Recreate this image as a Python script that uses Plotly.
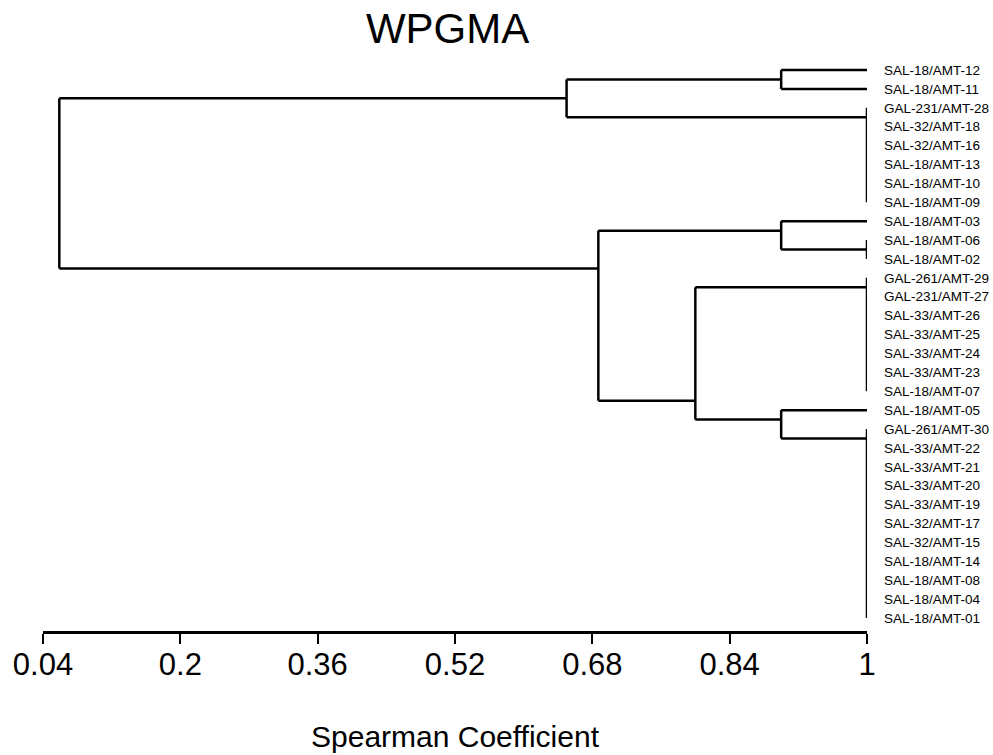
import plotly.graph_objects as go

# ---- data ----
leaves = [
    "SAL-18/AMT-12", "SAL-18/AMT-11", "GAL-231/AMT-28", "SAL-32/AMT-18",
    "SAL-32/AMT-16", "SAL-18/AMT-13", "SAL-18/AMT-10", "SAL-18/AMT-09",
    "SAL-18/AMT-03", "SAL-18/AMT-06", "SAL-18/AMT-02", "GAL-261/AMT-29",
    "GAL-231/AMT-27", "SAL-33/AMT-26", "SAL-33/AMT-25", "SAL-33/AMT-24",
    "SAL-33/AMT-23", "SAL-18/AMT-07", "SAL-18/AMT-05", "GAL-261/AMT-30",
    "SAL-33/AMT-22", "SAL-33/AMT-21", "SAL-33/AMT-20", "SAL-33/AMT-19",
    "SAL-32/AMT-17", "SAL-32/AMT-15", "SAL-18/AMT-14", "SAL-18/AMT-08",
    "SAL-18/AMT-04", "SAL-18/AMT-01",
]

# merges: node name -> (children, similarity at which they join)
node_names = ["A", "B", "AB", "C1", "C", "E", "G", "F", "D", "CD", "root"]
node_children = {
    "A": ["SAL-18/AMT-12", "SAL-18/AMT-11"],
    "B": ["GAL-231/AMT-28", "SAL-32/AMT-18", "SAL-32/AMT-16",
          "SAL-18/AMT-13", "SAL-18/AMT-10", "SAL-18/AMT-09"],
    "AB": ["A", "B"],
    "C1": ["SAL-18/AMT-06", "SAL-18/AMT-02"],
    "C": ["SAL-18/AMT-03", "C1"],
    "E": ["GAL-261/AMT-29", "GAL-231/AMT-27", "SAL-33/AMT-26", "SAL-33/AMT-25",
          "SAL-33/AMT-24", "SAL-33/AMT-23", "SAL-18/AMT-07"],
    "G": ["GAL-261/AMT-30", "SAL-33/AMT-22", "SAL-33/AMT-21", "SAL-33/AMT-20",
          "SAL-33/AMT-19", "SAL-32/AMT-17", "SAL-32/AMT-15", "SAL-18/AMT-14",
          "SAL-18/AMT-08", "SAL-18/AMT-04", "SAL-18/AMT-01"],
    "F": ["SAL-18/AMT-05", "G"],
    "D": ["E", "F"],
    "CD": ["C", "D"],
    "root": ["AB", "CD"],
}
node_height = {
    "A": 0.90, "B": 1.0, "AB": 0.65, "C1": 1.0, "C": 0.90, "E": 1.0,
    "G": 1.0, "F": 0.90, "D": 0.80, "CD": 0.687, "root": 0.059,
}

tick_vals = [0.04, 0.2, 0.36, 0.52, 0.68, 0.84, 1.0]
tick_text = ["0.04", "0.2", "0.36", "0.52", "0.68", "0.84", "1"]

# ---- geometry from the tree ----
leaf_idx = {n: i for i, n in enumerate(leaves)}


def span(n):
    if n in leaf_idx:
        return leaf_idx[n], leaf_idx[n]
    ch = node_children[n]
    return span(ch[0])[0], span(ch[-1])[1]


def attach(n):
    if n in leaf_idx:
        return float(leaf_idx[n])
    ch = node_children[n]
    return (span(ch[0])[1] + span(ch[1])[0]) / 2.0


def xpos(n):
    return 1.0 if n in leaf_idx else node_height[n]


xs, ys = [], []
for n in node_names:
    h = node_height[n]
    ch = node_children[n]
    ays = [attach(c) for c in ch]
    # vertical connector
    xs += [h, h, None]
    ys += [min(ays), max(ays), None]
    # horizontal branches
    for c, ay in zip(ch, ays):
        if xpos(c) != h:
            xs += [h, xpos(c), None]
            ys += [ay, ay, None]

fig = go.Figure()
fig.add_trace(go.Scatter(
    x=xs, y=ys, mode="lines",
    line=dict(color="black", width=2.5),
    hoverinfo="skip", showlegend=False,
))

font = "Liberation Sans, Arial, sans-serif"
fig.update_layout(
    width=993, height=755,
    margin=dict(l=43, r=126, t=50, b=124),
    paper_bgcolor="white", plot_bgcolor="white",
    title=dict(text="WPGMA", x=0.4507, xanchor="center", y=0.962, yanchor="middle",
               font=dict(family=font, size=42, color="black")),
    font=dict(family=font, color="black"),
)
fig.update_xaxes(
    range=[0.04, 1.0], tickvals=tick_vals, ticktext=tick_text,
    showline=True, linecolor="black", linewidth=2.5,
    ticks="outside", ticklen=10, tickwidth=2, tickcolor="black",
    showgrid=False, zeroline=False, automargin=False,
    ticklabelstandoff=-6,
    tickfont=dict(family=font, size=31, color="black"),
    title=dict(text="Spearman Coefficient", font=dict(family=font, size=30, color="black"), standoff=46),
)
fig.update_yaxes(
    range=[29.69, -1.06], side="right",
    tickvals=list(range(len(leaves))), ticktext=leaves,
    showline=False, showgrid=False, zeroline=False, ticks="", automargin=False,
    ticklabelstandoff=16,
    tickfont=dict(family=font, size=13.5, color="black"),
)

fig.write_html("out.html")
